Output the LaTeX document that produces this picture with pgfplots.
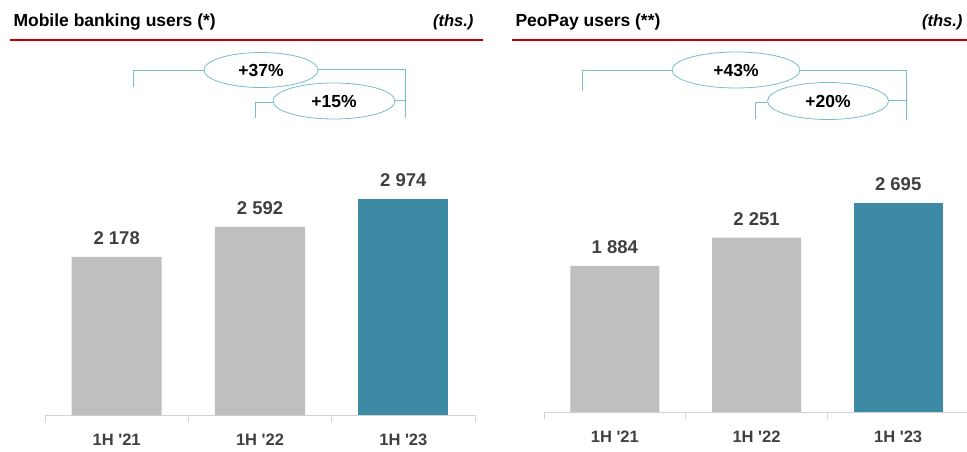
\documentclass[border=0pt]{standalone}
\usepackage{pgfplots}
\pgfplotsset{compat=1.18}
\usepackage{fontspec}
\setmainfont{Liberation Sans}
\definecolor{bargray}{RGB}{191,191,191}
\definecolor{barteal}{RGB}{61,138,164}
\definecolor{txt}{RGB}{64,64,64}
\definecolor{rulered}{RGB}{192,0,0}
\definecolor{brk}{RGB}{120,188,204}
\definecolor{axgray}{RGB}{210,210,210}

\pgfplotsset{
  mybars/.style={
    scale only axis,
    anchor=south west,
    ybar, bar shift=0pt,
    ymin=0, ymax=4000,
    xmin=-0.5, xmax=2.5,
    axis x line=bottom, axis y line=none,
    axis line style={axgray, line width=0.8pt, -},
    xtick={0,1,2},
    xticklabels={1H \textquotesingle21,1H \textquotesingle22,1H \textquotesingle23},
    minor xtick={-0.5,0.5,1.5,2.5},
    major tick length=0pt,
    minor tick length=7pt,
    xtick align=outside,
    minor tick style={axgray, line width=0.8pt},
    xticklabel style={font=\bfseries\fontsize{16.5}{16.5}\selectfont, text=txt, yshift=-15pt},
    nodes near coords,
    nodes near coords style={font=\bfseries\fontsize{18.5}{18.5}\selectfont, text=txt, yshift=8.5pt},
    /pgf/number format/.cd, 1000 sep={\ }, assume math mode=true,
    /pgfplots/.cd,
    clip=false,
  }
}

\begin{document}
\begin{tikzpicture}[x=1pt,y=1pt]
\path[use as bounding box] (0pt,0pt) rectangle (967pt,451pt);

% ---------- Left panel ----------
\node[anchor=west, font=\bfseries\fontsize{17.5}{17.5}\selectfont] at (10pt,429pt) {Mobile banking users (*)};
\node[anchor=east, font=\bfseries\itshape\fontsize{16.5}{16.5}\selectfont] at (477pt,429pt) {(ths.)};
\draw[rulered, line width=2.5pt] (10pt,411pt) -- (483pt,411pt);

\begin{axis}[mybars, at={(45pt,36pt)}, width=430pt, height=290.4pt, bar width=90pt]
\addplot[fill=bargray, draw=none] coordinates {(0,2178) (1,2592)};
\addplot[fill=barteal, draw=none] coordinates {(2,2974)};
\end{axis}

\begin{scope}[brk, line width=0.8pt]
\draw (133pt,364pt) -- (133pt,381pt) -- (204pt,381pt);
\draw (261pt,381pt) ellipse [x radius=57pt, y radius=17.5pt];
\draw (318pt,382pt) -- (405pt,382pt) -- (405pt,333pt);
\draw (255pt,333pt) -- (255pt,349pt) -- (273pt,349pt);
\draw (334pt,350pt) ellipse [x radius=61pt, y radius=18pt];
\draw (395pt,351pt) -- (405pt,351pt);
\end{scope}
\node[font=\bfseries\fontsize{17.5}{17.5}\selectfont] at (261pt,381pt) {+37\%};
\node[font=\bfseries\fontsize{17.5}{17.5}\selectfont] at (334pt,350pt) {+15\%};

% ---------- Right panel ----------
\node[anchor=west, font=\bfseries\fontsize{17.5}{17.5}\selectfont] at (512pt,429pt) {PeoPay users (**)};
\node[anchor=east, font=\bfseries\itshape\fontsize{16.5}{16.5}\selectfont] at (966pt,429pt) {(ths.)};
\draw[rulered, line width=2.5pt] (512pt,411pt) -- (967pt,411pt);

\begin{axis}[mybars, at={(544pt,39pt)}, width=425pt, height=310pt, bar width=89pt]
\addplot[fill=bargray, draw=none] coordinates {(0,1884) (1,2251)};
\addplot[fill=barteal, draw=none] coordinates {(2,2695)};
\end{axis}

\begin{scope}[brk, line width=0.8pt]
\draw (582pt,360pt) -- (582pt,381pt) -- (672pt,381pt);
\draw (736pt,381pt) ellipse [x radius=64pt, y radius=18pt];
\draw (800pt,381pt) -- (906pt,381pt) -- (906pt,331pt);
\draw (755pt,332pt) -- (755pt,349pt) -- (767pt,349pt);
\draw (828pt,350pt) ellipse [x radius=60.5pt, y radius=18.5pt];
\draw (888pt,351pt) -- (906pt,351pt);
\end{scope}
\node[font=\bfseries\fontsize{17.5}{17.5}\selectfont] at (736pt,381pt) {+43\%};
\node[font=\bfseries\fontsize{17.5}{17.5}\selectfont] at (828pt,350pt) {+20\%};
\end{tikzpicture}
\end{document}
